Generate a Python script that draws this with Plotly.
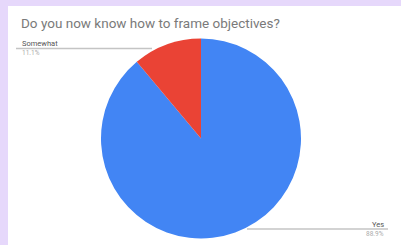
import plotly.graph_objects as go

labels = ["Yes", "Somewhat"]
values = [88.9, 11.1]
colors = ["#4285f4", "#ea4335"]
title = "Do you now know how to frame objectives?"

W, H = 401, 245

def px(x):
    return x / W

def py(y):
    return 1 - y / H

fig = go.Figure()
fig.add_trace(go.Pie(
    labels=labels,
    values=values,
    marker=dict(colors=colors, line=dict(width=0)),
    sort=False,
    direction="clockwise",
    rotation=0,
    textinfo="none",
    hoverinfo="label+percent",
    showlegend=False,
    domain=dict(x=[px(101), px(301)], y=[py(238.5), py(38.5)]),
))

shapes = [
    dict(type="rect", xref="paper", yref="paper", x0=px(8), x1=1.01, y0=-0.01, y1=py(6),
         fillcolor="white", line=dict(width=0), layer="below"),
    dict(type="line", xref="paper", yref="paper", x0=px(16), x1=px(152), y0=py(48.5), y1=py(48.5),
         line=dict(color="#c4c4c4", width=1.3)),
    dict(type="line", xref="paper", yref="paper", x0=px(247), x1=px(388), y0=py(229), y1=py(229),
         line=dict(color="#c4c4c4", width=1.3)),
]

pct = [f"{v:.1f}%" for v in values]
annotations = [
    dict(text=title, xref="paper", yref="paper", x=px(19), y=py(23), xanchor="left", yanchor="middle",
         showarrow=False, font=dict(family="Roboto", size=13.5, color="#7a7a7a")),
    dict(text=labels[1], xref="paper", yref="paper", x=px(20), y=py(44), xanchor="left", yanchor="middle",
         showarrow=False, font=dict(family="Roboto", size=7.5, color="#555555")),
    dict(text=pct[1], xref="paper", yref="paper", x=px(20), y=py(53.5), xanchor="left", yanchor="middle",
         showarrow=False, font=dict(family="Roboto", size=6.5, color="#aaaaaa")),
    dict(text=labels[0], xref="paper", yref="paper", x=px(386), y=py(224.5), xanchor="right", yanchor="middle",
         showarrow=False, font=dict(family="Roboto", size=7.5, color="#555555")),
    dict(text=pct[0], xref="paper", yref="paper", x=px(386), y=py(234), xanchor="right", yanchor="middle",
         showarrow=False, font=dict(family="Roboto", size=6.5, color="#aaaaaa")),
]

fig.update_layout(
    width=W, height=H,
    margin=dict(l=0, r=0, t=0, b=0),
    paper_bgcolor="#e6d8fb",
    shapes=shapes,
    annotations=annotations,
)

fig.write_html("out.html", config={"displayModeBar": False},
               post_script="document.body.style.margin='0';document.body.style.overflow='hidden';")
